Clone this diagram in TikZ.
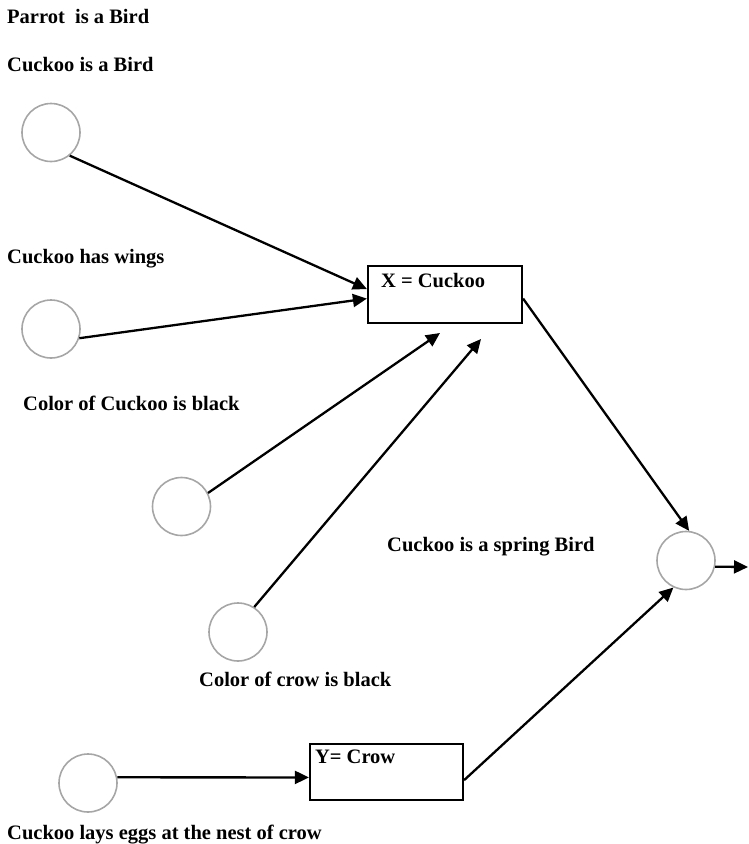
\documentclass[tikz,border=0pt]{standalone}
\usepackage{fontspec}
\setmainfont{Liberation Serif}
\usetikzlibrary{arrows.meta}

\begin{document}
\begin{tikzpicture}[x=1pt, y=-1pt,
    txt/.style={anchor=base west, inner sep=0pt,
      font=\fontsize{20.5}{24}\selectfont\bfseries},
    fact/.style={circle, draw=gray!70, line width=1.6pt,
      minimum size=58pt, inner sep=0pt},
    var/.style={draw=black, line width=2.2pt, inner sep=0pt},
    arr/.style={-{Triangle[length=14pt,width=13pt]}, line width=2.3pt}]
        \useasboundingbox (0,0) rectangle (748,844);

        % the facts
        \node[txt] (parrot) at (7,23.5) {Parrot\ \ is a Bird};
        \node[txt] (cuckoobird) at (7,71.5) {Cuckoo is a Bird};
        \node[txt] (wings) at (7,263.5) {Cuckoo has wings};
        \node[txt] (cuckooblack) at (23,410.5) {Color of Cuckoo is black};
        \node[txt] (spring) at (387,551.5) {Cuckoo is a spring Bird};
        \node[txt] (crowblack) at (199,686) {Color of crow is black};
        \node[txt] (eggs) at (7,839) {Cuckoo lays eggs at the nest of crow};

        \node[fact] (c1) at (51,132.5) {};
        \node[fact] (c2) at (51,329) {};
        \node[fact] (c3) at (181.5,506.5) {};
        \node[fact] (c4) at (238,632) {};
        \node[fact] (c5) at (686,560.5) {};
        \node[fact] (c6) at (88,783) {};

        % the variables
        \node[var, minimum width=154pt, minimum height=57pt]
        (bx) at (445,294.5) {};
        \node[txt] (bxname) at ([shift={(14,23)}]bx.north west) {X = Cuckoo};

        \node[var, minimum width=153pt, minimum height=56pt]
        (by) at (386.5,772) {};
        \node[txt] (byname) at ([shift={(6,21)}]by.north west) {Y= Crow};

        \coordinate (t3) at (440,333);
        \coordinate (t4) at (481,339);
        \coordinate (out) at (748,567);

        \path[arr] (c1.-51) edge (bx.176)
        (c2.-18) edge (bx.183)
        (c3.27) edge (t3)
        (c4.57) edge (t4)
        (bx.-3) edge (c5.84)
        (c6.11) edge (by.184)
        (by.-6) edge (c5.-115)
        (c5.-12) edge (out) ;
\end{tikzpicture}
\end{document}
